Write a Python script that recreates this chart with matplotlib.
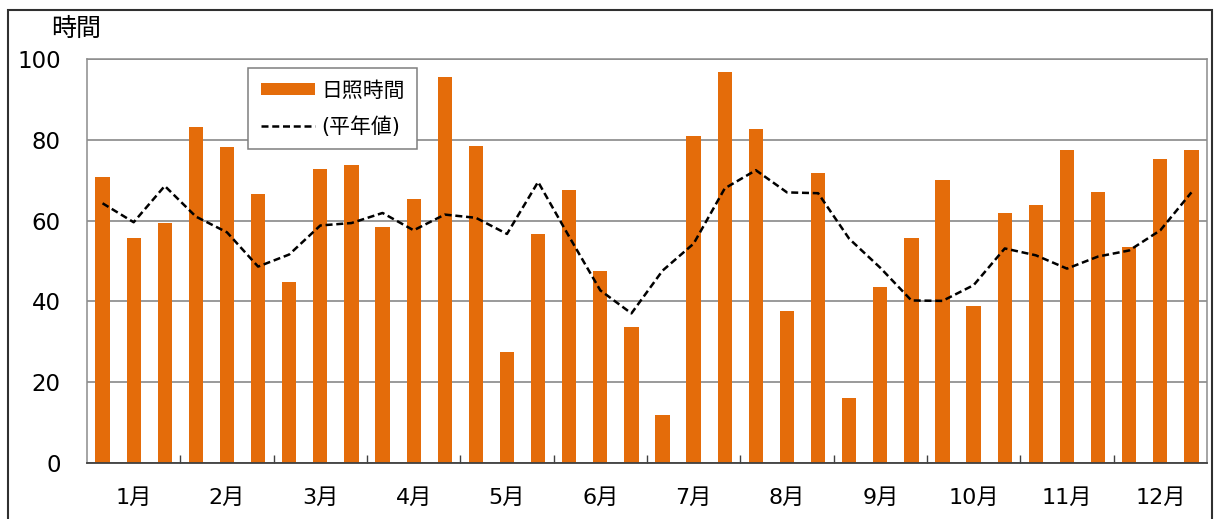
import matplotlib
matplotlib.use("Agg")
import matplotlib.pyplot as plt
from matplotlib.patches import Rectangle, Patch
from matplotlib.lines import Line2D
import numpy as np

plt.rcParams['font.family'] = ['DejaVu Sans', 'Noto Sans CJK JP']

months = ["1月", "2月", "3月", "4月", "5月", "6月", "7月", "8月", "9月", "10月", "11月", "12月"]

sunshine = [70.7, 55.6, 59.3, 83.1, 78.3, 66.5, 44.9, 72.7, 73.9, 58.3, 65.3, 95.5,
            78.6, 27.3, 56.8, 67.7, 47.5, 33.7, 11.9, 81.0, 96.9, 82.6, 37.6, 71.7,
            16.1, 43.6, 55.7, 70.1, 38.9, 61.9, 63.9, 77.6, 67.1, 53.5, 75.3, 77.6]

normal = [64.3, 59.6, 68.6, 61.0, 57.1, 48.6, 51.6, 58.8, 59.4, 61.9, 57.6, 61.5,
          60.7, 56.7, 69.6, 56.0, 42.7, 37.0, 47.6, 54.3, 68.0, 72.5, 67.0, 66.8,
          55.5, 48.3, 40.2, 40.1, 44.0, 53.1, 51.4, 48.1, 51.1, 52.6, 57.6, 67.0]

bar_color = '#E46C0A'

fig = plt.figure(figsize=(12.15, 5.19), dpi=100)
ax = fig.add_axes([0.0716, 0.1087, 0.9218, 0.777])

x = np.arange(len(sunshine))
ax.bar(x, sunshine, width=0.46, color=bar_color, zorder=2)
ax.plot(x, normal, color='black', lw=1.8, dashes=(2.8, 1.5), zorder=3)

ax.set_xlim(-0.5, len(sunshine) - 0.5)
ax.set_ylim(0, 100)
ax.set_yticks([0, 20, 40, 60, 80, 100])
ax.tick_params(axis='y', length=0, labelsize=16.5, pad=19)
ax.yaxis.grid(True, color='#7f7f7f', lw=1.1, zorder=1)
ax.set_axisbelow(True)

# month boundary ticks
ax.set_xticks(np.arange(2.5, 33, 3))
ax.set_xticklabels([])
ax.tick_params(axis='x', which='major', direction='in', length=6, width=1, color='#404040')
ax.set_xticks(np.arange(1, 36, 3), minor=True)
ax.set_xticklabels(months, minor=True, fontsize=16)
ax.tick_params(axis='x', which='minor', length=0, pad=18)

for s in ['left', 'right', 'top']:
    ax.spines[s].set_color('#8c8c8c')
    ax.spines[s].set_linewidth(1.1)
ax.spines['bottom'].set_color('#404040')
ax.spines['bottom'].set_linewidth(1.3)

fig.text(0.042, 0.944, "時間", fontsize=18, ha='left', va='center')

handles = [Patch(facecolor=bar_color, edgecolor='none'),
           Line2D([0], [0], color='black', lw=1.8, dashes=(2.8, 1.5))]
leg = fig.legend(handles, ["日照時間", "(平年値)"], loc='upper left',
                 bbox_to_anchor=(248 / 1215, 1 - 68 / 519), fontsize=15,
                 fancybox=False, framealpha=1, edgecolor='#7f7f7f',
                 handlelength=2.6, handleheight=0.55, handletextpad=0.3,
                 borderpad=0.6, labelspacing=0.75, borderaxespad=0)
leg.get_frame().set_linewidth(1.1)

# outer frame
fig.patches.append(Rectangle((8 / 1215, -0.05), (1212 - 8) / 1215, 1.05 - 9.5 / 519,
                             transform=fig.transFigure, fill=False,
                             edgecolor='#303030', lw=1.5))

fig.savefig("out.png", dpi=100)
